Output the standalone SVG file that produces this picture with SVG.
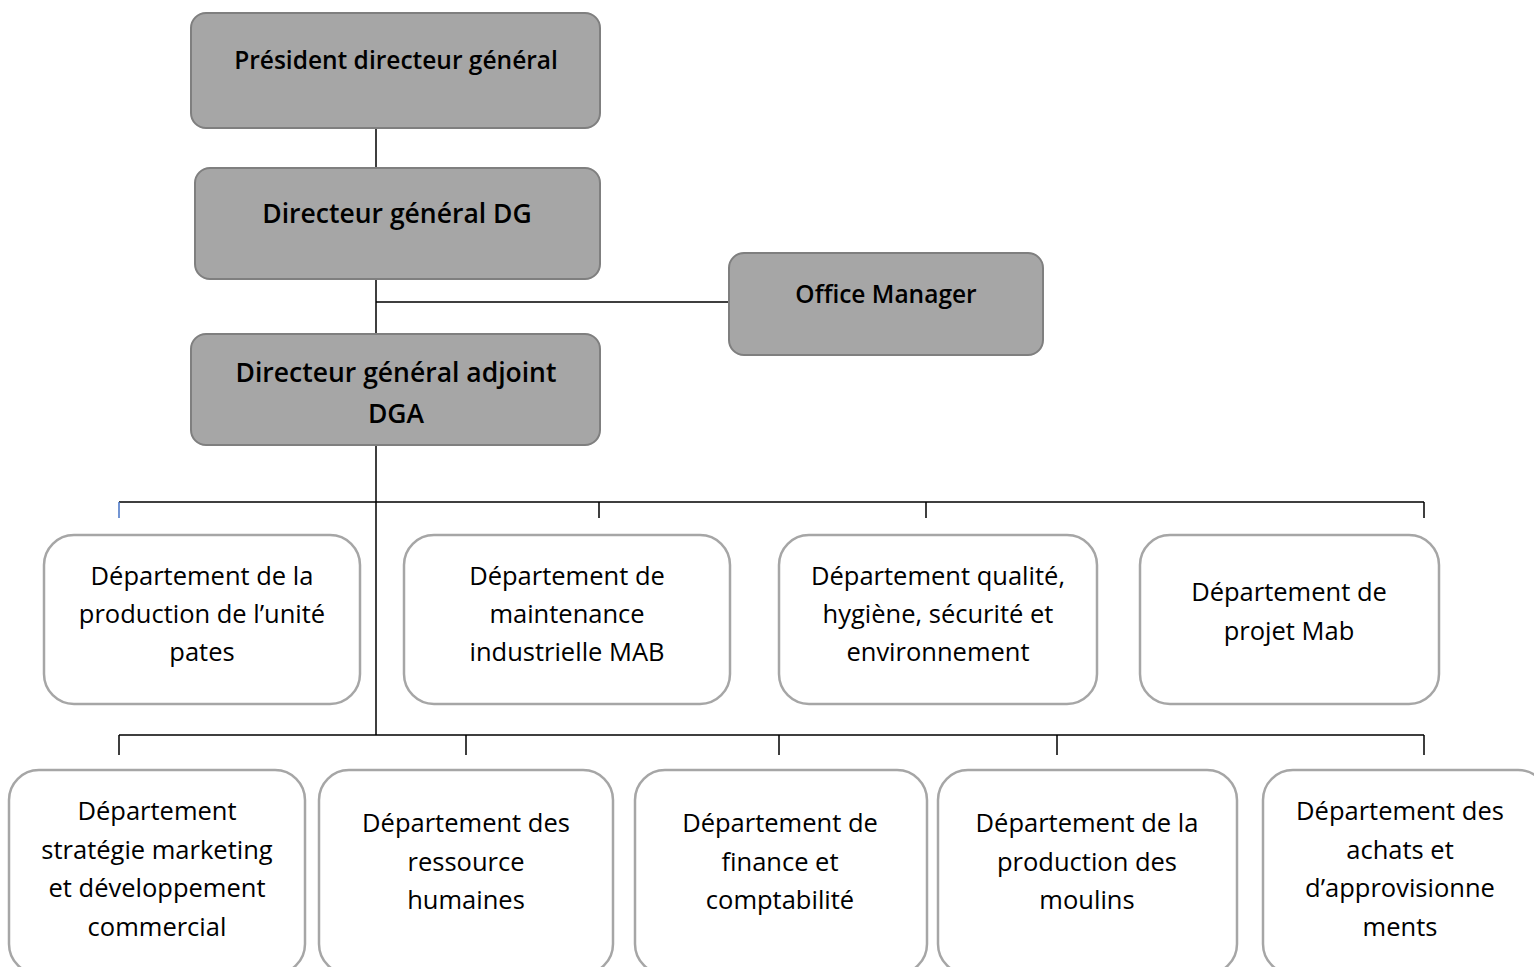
<svg xmlns="http://www.w3.org/2000/svg" width="1534" height="967" viewBox="0 0 1534 967">
<style>
.exec{fill:#a6a6a6;stroke:#7f7f7f;stroke-width:2}
.dept{fill:#ffffff;stroke:#a6a6a6;stroke-width:2.5}
.t{font-family:"Open Sans","Liberation Sans",sans-serif;fill:#000;text-anchor:middle}
.b{font-weight:600}
.d{font-size:25.5px}
.ln{stroke:#000;stroke-width:1.5;fill:none}
</style>
<rect width="1534" height="967" fill="#ffffff"/>
<g id="connectors">
<path class="ln" d="M376 128V168M376 279V334M376 302H729M376 445V735"/>
<path class="ln" d="M119 502H1424M599 502V518M926 502V518M1424 502V518"/>
<path d="M119 502V518" stroke="#4472c4" stroke-width="1.5"/>
<path class="ln" d="M119 735H1424M119 735V755M466 735V755M779 735V755M1057 735V755M1424 735V755"/>
</g>
<g id="pdg">
<rect class="exec" x="191" y="13" width="409" height="115" rx="15"/>
<text class="t b" x="396" y="69" font-size="24.5">Président directeur général</text>
</g>
<g id="dg">
<rect class="exec" x="195" y="168" width="405" height="111" rx="15"/>
<text class="t b" x="397" y="223" font-size="26.5">Directeur général DG</text>
</g>
<g id="office">
<rect class="exec" x="729" y="253" width="314" height="102" rx="15"/>
<text class="t b" x="886" y="303" font-size="24.5">Office Manager</text>
</g>
<g id="dga">
<rect class="exec" x="191" y="334" width="409" height="111" rx="15"/>
<text class="t b" x="396" y="382" font-size="26.5">Directeur général adjoint</text>
<text class="t b" x="396" y="423" font-size="26.5">DGA</text>
</g>
<g id="dep-production-pates">
<rect class="dept" x="44" y="535" width="316" height="169" rx="30"/>
<text class="t d" x="202" y="585">Département de la</text>
<text class="t d" x="202" y="623">production de l’unité</text>
<text class="t d" x="202" y="661">pates</text>
</g>
<g id="dep-maintenance">
<rect class="dept" x="404" y="535" width="326" height="169" rx="30"/>
<text class="t d" x="567" y="585">Département de</text>
<text class="t d" x="567" y="623">maintenance</text>
<text class="t d" x="567" y="661">industrielle MAB</text>
</g>
<g id="dep-qhse">
<rect class="dept" x="779" y="535" width="318" height="169" rx="30"/>
<text class="t d" x="938" y="585">Département qualité,</text>
<text class="t d" x="938" y="623">hygiène, sécurité et</text>
<text class="t d" x="938" y="661">environnement</text>
</g>
<g id="dep-projet">
<rect class="dept" x="1140" y="535" width="299" height="169" rx="30"/>
<text class="t d" x="1289" y="601">Département de</text>
<text class="t d" x="1289" y="640">projet Mab</text>
</g>
<g id="dep-marketing">
<rect class="dept" x="9" y="770" width="296" height="204" rx="30"/>
<text class="t d" x="157" y="820">Département</text>
<text class="t d" x="157" y="859">stratégie marketing</text>
<text class="t d" x="157" y="897">et développement</text>
<text class="t d" x="157" y="936">commercial</text>
</g>
<g id="dep-rh">
<rect class="dept" x="319" y="770" width="294" height="204" rx="30"/>
<text class="t d" x="466" y="832">Département des</text>
<text class="t d" x="466" y="871">ressource</text>
<text class="t d" x="466" y="909">humaines</text>
</g>
<g id="dep-finance">
<rect class="dept" x="635" y="770" width="292" height="204" rx="30"/>
<text class="t d" x="780" y="832">Département de</text>
<text class="t d" x="780" y="871">finance et</text>
<text class="t d" x="780" y="909">comptabilité</text>
</g>
<g id="dep-moulins">
<rect class="dept" x="938" y="770" width="299" height="204" rx="30"/>
<text class="t d" x="1087" y="832">Département de la</text>
<text class="t d" x="1087" y="871">production des</text>
<text class="t d" x="1087" y="909">moulins</text>
</g>
<g id="dep-achats">
<rect class="dept" x="1263" y="770" width="285" height="204" rx="30"/>
<text class="t d" x="1400" y="820">Département des</text>
<text class="t d" x="1400" y="859">achats et</text>
<text class="t d" x="1400" y="897">d’approvisionne</text>
<text class="t d" x="1400" y="936">ments</text>
</g>
</svg>
